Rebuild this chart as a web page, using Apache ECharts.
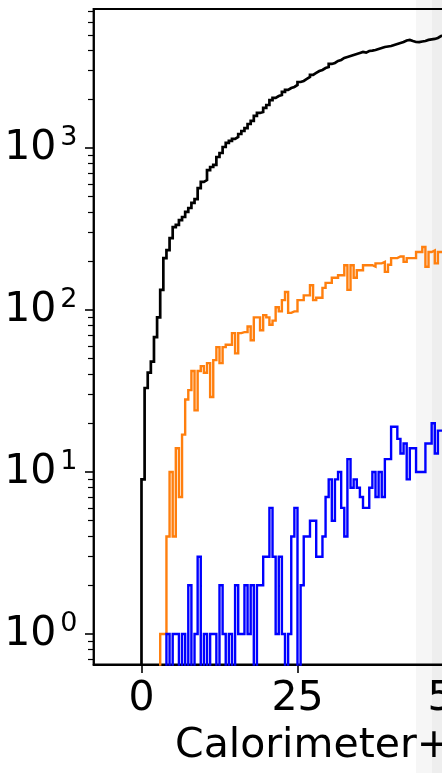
<!DOCTYPE html>
<html>
<head>
<meta charset="utf-8">
<style>
html,body{margin:0;padding:0;background:#fff;}
#main{width:442px;height:773px;}
</style>
<script src="https://cdn.jsdelivr.net/npm/echarts@6/dist/echarts.min.js"></script>
</head>
<body>
<div id="main"></div>
<script>
// histogram bins: first left edge and width
var binStart = 0;
var binWidth = 0.5;

// counts per bin
var allCounts = [9,33,41,48,68,90,133,209,234,278,
    325,335,359,375,403,426,458,484,566,617,
    634,731,763,786,880,931,1014,1074,1105,1137,
    1169,1220,1273,1328,1406,1468,1577,1645,1669,1766,
    1842,1977,2036,2094,2124,2218,2282,2346,2381,2449,
    2555,2593,2667,2743,2823,2904,2987,3030,3117,3162,
    3302,3350,3445,3494,3594,3645,3698,3751,3805,3859,
    3914,3880,3970,3990,4027,4085,4143,4202,4230,4262,
    4323,4385,4448,4511,4610,4645,4575,4511,4500,4540,
    4575,4645,4680,4711,4780,4910,4950];
var orangeCounts = [0,0,0,0,0,0,1,1,4,10,
    4,14,7,17,28,32,42,24,42,45,
    41,47,29,49,59,47,59,61,61,72,
    54,72,73,73,79,65,90,90,75,93,
    90,81,86,104,98,115,129,96,98,98,
    115,115,123,123,142,115,119,119,137,147,
    147,158,158,164,164,189,133,189,158,176,
    176,189,189,189,185,194,194,198,172,190,
    209,209,214,214,198,209,209,209,228,228,
    245,185,228,233,194,228,228];
var blueCounts = [0,0,0,0,0,0,0,0,1,0,
    1,1,0,1,0,2,0,1,3,0,
    1,0,1,1,0,2,1,0,1,0,
    2,1,1,2,1,2,0,2,2,3,
    3,6,3,1,3,1,0,1,4,6,
    0,2,4,4,5,5,3,3,4,7,
    9,5,9,10,6,4,12,8,9,8,
    7,6,6,8,10,7,10,7,12,12,
    19,19,16,13,15,9,14,14,10,10,
    10,15,15,20,13,18,18];

var xTicks = [0, 25, 50];
var yTicks = [1, 10, 100, 1000];
var yMinorTicks = [0.7,0.8,0.9,2,3,4,5,6,7,8,9,20,30,40,50,60,70,80,90,
    200,300,400,500,600,700,800,900,2000,3000,4000,5000,6000,7000];
var xRange = [-7.69, 60];
var yRange = [0.648, 7210];
var xName = "Calorimeter+";

var FONT = "DejaVu Sans";
var LOW = -6; // empty bins fall far below the axis

function lg(v){
    return v > 0 ? Math.log10(v) : LOW;
}

// step outline like a matplotlib step histogram
function toSteps(aCounts){
    var aPoints = [[binStart, LOW]];
    for (var i = 0; i < aCounts.length; i++) {
        aPoints.push([binStart + i * binWidth, lg(aCounts[i])]);
    }
    aPoints.push([binStart + aCounts.length * binWidth, lg(aCounts[aCounts.length - 1])]);
    return aPoints;
}

function stepSeries(aCounts, sColor, iWidth){
    return {
        type: "line",
        step: "end",
        data: toSteps(aCounts),
        showSymbol: false,
        clip: true,
        silent: true,
        lineStyle: {color: sColor, width: iWidth, join: "miter"},
        z: 3
    };
}

var chart = echarts.init(document.getElementById("main"), null, {renderer: "canvas"});

var yLog = {min: lg(yRange[0]), max: lg(yRange[1])};

chart.setOption({
    animation: false,
    backgroundColor: "transparent",
    graphic: [
        {type: "rect", z: -10, shape: {x: 416, y: 0, width: 16, height: 773}, style: {fill: "#f6f6f6"}},
        {type: "rect", z: -10, shape: {x: 432, y: 0, width: 10, height: 773}, style: {fill: "#eeeeee"}},
        {type: "text", x: 175, y: 746, style: {text: xName, font: "41px " + FONT, fill: "#000", verticalAlign: "middle"}}
    ],
    grid: {
        left: 93.5,
        right: -73.9,
        top: 9,
        bottom: 108.5,
        show: true,
        borderColor: "#000",
        borderWidth: 1.8,
        backgroundColor: "transparent",
        outerBoundsMode: "none"
    },
    xAxis: {
        type: "value",
        min: xRange[0],
        max: xRange[1],
        axisLine: {show: true, onZero: false, lineStyle: {color: "#000", width: 1.8}},
        axisTick: {show: true, length: 8.5, customValues: xTicks, lineStyle: {color: "#000", width: 1.6}},
        axisLabel: {show: true, customValues: xTicks, margin: 14, color: "#000", fontSize: 41, fontFamily: FONT},
        splitLine: {show: false}
    },
    yAxis: [
        {
            type: "value",
            min: yLog.min,
            max: yLog.max,
            position: "left",
            axisLine: {show: true, onZero: false, lineStyle: {color: "#000", width: 1.8}},
            axisTick: {show: true, length: 8.5, customValues: yTicks.map(lg), lineStyle: {color: "#000", width: 1.6}},
            axisLabel: {
                show: true,
                customValues: yTicks.map(lg),
                margin: 16,
                formatter: function(v){
                    return "{b|10}{s|" + Math.round(v) + "}";
                },
                rich: {
                    b: {fontSize: 41, fontFamily: FONT, color: "#000", lineHeight: 46},
                    s: {fontSize: 27, fontFamily: FONT, color: "#000", lineHeight: 30, verticalAlign: "top", padding: [0, 0, 0, 4]}
                }
            },
            splitLine: {show: false}
        },
        {
            type: "value",
            min: yLog.min,
            max: yLog.max,
            position: "left",
            axisLine: {show: false, onZero: false},
            axisTick: {show: true, length: 5.5, customValues: yMinorTicks.map(lg), lineStyle: {color: "#000", width: 1.2}},
            axisLabel: {show: false},
            splitLine: {show: false}
        }
    ],
    series: [
        stepSeries(allCounts, "#000000", 2.7),
        stepSeries(orangeCounts, "#ff7f0e", 2.4),
        stepSeries(blueCounts, "#0000ff", 2.4)
    ]
});
</script>
</body>
</html>
